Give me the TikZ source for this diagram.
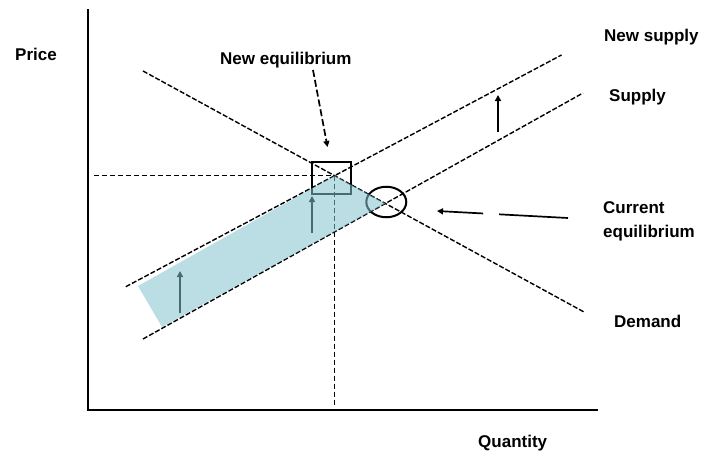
\documentclass[tikz,border=0pt]{standalone}
\usepackage{fontspec}
\setmainfont{Liberation Sans}
\usetikzlibrary{arrows.meta,shapes.geometric}
\definecolor{bandblue}{RGB}{131,195,206}
\begin{document}
\begin{tikzpicture}[x=1pt,y=-1pt,
  lbl/.style={font=\bfseries\fontsize{17}{24}\selectfont, inner sep=0pt, anchor=base west},
  curve/.style={line width=1.4pt, dash pattern=on 5pt off 2pt},
  guide/.style={line width=1.3pt, dash pattern=on 5pt off 3pt},
  axisline/.style={line width=2.2pt},
  tip/.style={-{Triangle[length=6pt,width=6pt]}},
  shiftarrow/.style={line width=1.8pt, tip},
  pointer/.style={line width=1.7pt, tip},
  marker/.style={draw, line width=2pt, inner sep=0pt},
  band/.style={fill=bandblue, fill opacity=0.55}
]
\useasboundingbox (0,0) rectangle (704,455);

% axes
\coordinate (Ytop) at (88,9);
\coordinate (O) at (88,410);
\coordinate (Xend) at (598,410);
\draw[axisline] (Ytop) -- (O) -- (Xend);

% curves
\coordinate (D1) at (143,71);    \coordinate (D2) at (584,312);
\coordinate (S1) at (143,339);   \coordinate (S2) at (583,93);
\coordinate (N1) at (125.8,286.7); \coordinate (N2) at (561.5,55);
\coordinate (NE) at (intersection of D1--D2 and N1--N2);
\coordinate (CE) at (intersection of D1--D2 and S1--S2);
\draw[curve] (D1) -- (D2);
\draw[curve] (S1) -- (S2);
\draw[curve] (N1) -- (N2);

% guide lines
\coordinate (PL) at (94,0);
\coordinate (QL) at (0,405);
\draw[guide] (NE -| PL) -- (NE);
\draw[guide] (NE) -- (NE |- QL);

% markers
\node[marker, rectangle, minimum width=39pt, minimum height=32pt] (NEbox) at (331.8,178.3) {};
\node[marker, ellipse, minimum width=40pt, minimum height=30.5pt] (CEring) at (386.3,202) {};

% shift arrows
\coordinate (a1s) at (180,313); \coordinate (a1e) at (180,271);
\coordinate (a2s) at (312,233); \coordinate (a2e) at (312,196);
\coordinate (a3s) at (498,132); \coordinate (a3e) at (498,95);
\draw[shiftarrow] (a1s) -- (a1e);
\draw[shiftarrow] (a2s) -- (a2e);
\draw[shiftarrow] (a3s) -- (a3e);

% shaded band
\coordinate (B1) at (138,286);
\coordinate (B2) at (162,327);
\fill[band] (B1) -- (NE) -- (CE) -- (B2) -- cycle;

% labels
\node[lbl] (price) at (15,60) {Price};
\node[lbl] (qty) at (478,447) {Quantity};
\node[lbl] (neweq) at (220,64) {New equilibrium};
\node[lbl] (newsup) at (604,41) {New supply};
\node[lbl] (sup) at (609,101) {Supply};
\node[lbl, anchor=north west, align=left] (cureq) at (603,201.6) {Current\\equilibrium};
\node[lbl] (dem) at (614,327) {Demand};

% pointers
\coordinate (p1s) at (313,70);  \coordinate (p1e) at (327.5,147);
\coordinate (p2s) at (568,218); \coordinate (p2e) at (437,211);
\draw[pointer, dash pattern=on 7pt off 3pt] (p1s) -- (p1e);
\draw[pointer, dash pattern=on 69pt off 16pt] (p2s) -- (p2e);
\end{tikzpicture}
\end{document}
